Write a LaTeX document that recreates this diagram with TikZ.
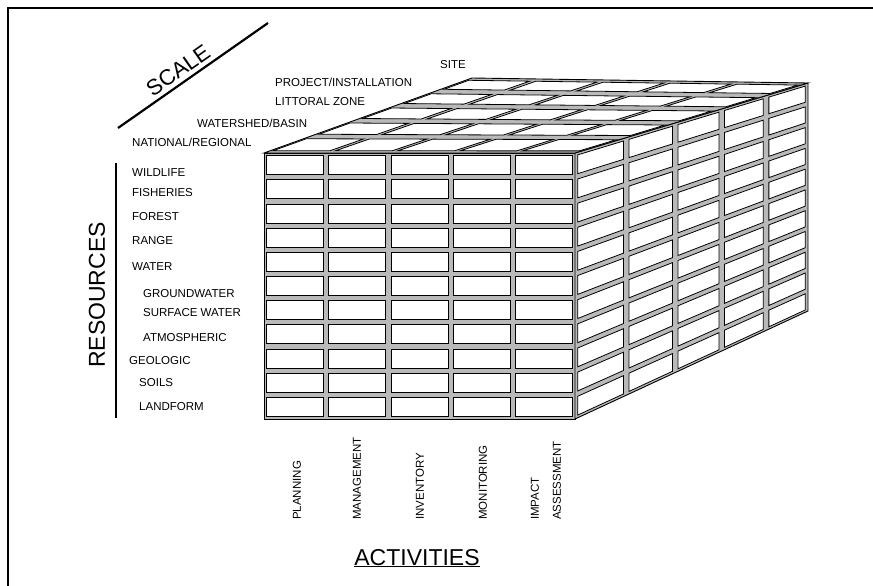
\documentclass[tikz,border=0pt]{standalone}
\usepackage{fontspec}
\setmainfont{Liberation Sans}
\usetikzlibrary{calc}

\begin{document}
\begin{tikzpicture}
	[
	x=1pt, y=-1pt,
	every node/.style={font=\fontsize{11.5}{13}\selectfont, inner sep=0pt},
	bar/.style = {draw, line width=0.9pt, fill=gray!55},
	cell/.style = {draw, line width=0.8pt, fill=white},
	lbl/.style = {anchor=west},
	big/.style = {font=\fontsize{23}{25}\selectfont}
	]
	\useasboundingbox (0,0) rectangle (873,586);
	\draw[line width=2pt] (8,586) -- (8,8) -- (873,8);

	% corners of the block
	\coordinate (f1) at (264,153);
	\coordinate (f2) at (575,153);
	\coordinate (f3) at (575,419);
	\coordinate (f4) at (264,419);
	\coordinate (b1) at (472,78);
	\coordinate (b2) at (808,83);
	\coordinate (b3) at (808,311);

	\draw[bar] (f1) -- (f2) -- (f3) -- (f4) -- cycle;
	\draw[bar] (f2) -- (b2) -- (b3) -- (f3) -- cycle;
	\draw[bar] (f1) -- (b1) -- (b2) -- (f2) -- cycle;

	% front face
	\foreach \c in {0,...,4}
		\foreach \r in {0,...,10}
			\draw[cell] ($(f1)+(\c*62.2+2.6,\r*24.18+2.6)$) rectangle ++(57,19);

	% right face
	\foreach \d/\e in {0/.22,.22/.43,.43/.63,.63/.82,.82/1}
		\foreach \r in {0,...,10} {
			\pgfmathsetmacro\ua{\d+.012} \pgfmathsetmacro\ub{\e-.012}
			\pgfmathsetmacro\va{\r/11+.01} \pgfmathsetmacro\vb{(\r+1)/11-.01}
			\draw[cell] ($($(f2)!\ua!(b2)$)!\va!($(f3)!\ua!(b3)$)$)
				-- ($($(f2)!\ub!(b2)$)!\va!($(f3)!\ub!(b3)$)$)
				-- ($($(f2)!\ub!(b2)$)!\vb!($(f3)!\ub!(b3)$)$)
				-- ($($(f2)!\ua!(b2)$)!\vb!($(f3)!\ua!(b3)$)$) -- cycle;
		}

	% top face
	\foreach \d/\e in {0/.22,.22/.43,.43/.63,.63/.82,.82/1}
		\foreach \c in {0,...,4} {
			\pgfmathsetmacro\ua{\c/5+.009} \pgfmathsetmacro\ub{(\c+1)/5-.009}
			\pgfmathsetmacro\va{\d+.03} \pgfmathsetmacro\vb{\e-.03}
			\draw[cell] ($($(f1)!\ua!(f2)$)!\va!($(b1)!\ua!(b2)$)$)
				-- ($($(f1)!\ub!(f2)$)!\va!($(b1)!\ub!(b2)$)$)
				-- ($($(f1)!\ub!(f2)$)!\vb!($(b1)!\ub!(b2)$)$)
				-- ($($(f1)!\ua!(f2)$)!\vb!($(b1)!\ua!(b2)$)$) -- cycle;
		}

	% scale
	\coordinate (s1) at (118,128);
	\coordinate (s2) at (268,23);
	\draw[line width=2.2pt] (s1) -- node[sloped, above=4pt, pos=.45, font=\fontsize{22}{24}\selectfont] (scale) {SCALE} (s2);
	\node[lbl] (national) at (132,142) {NATIONAL/REGIONAL};
	\node[lbl] (watershed) at (197,123) {WATERSHED/BASIN};
	\node[lbl] (littoral) at (275,102) {LITTORAL ZONE};
	\node[lbl] (project) at (275,82) {PROJECT/INSTALLATION};
	\node[lbl] (site) at (440,65) {SITE};

	% resources
	\draw[line width=2pt] (116,163) -- (116,418);
	\node[big, rotate=90] (resources) at (97,295) {RESOURCES};
	\node[lbl] (wildlife) at (132,173) {WILDLIFE};
	\node[lbl] (fisheries) at (132,193) {FISHERIES};
	\node[lbl] (forest) at (132,217) {FOREST};
	\node[lbl] (range) at (132,241) {RANGE};
	\node[lbl] (water) at (132,267) {WATER};
	\node[lbl] (ground) at (143,294) {GROUNDWATER};
	\node[lbl] (surface) at (143,313) {SURFACE WATER};
	\node[lbl] (atmos) at (143,338) {ATMOSPHERIC};
	\node[lbl] (geologic) at (129,361) {GEOLOGIC};
	\node[lbl] (soils) at (139,383) {SOILS};
	\node[lbl] (landform) at (139,407) {LANDFORM};

	% activities
	\node[lbl, rotate=90] (planning) at (297,520) {PLANNING};
	\node[lbl, rotate=90] (management) at (357,520) {MANAGEMENT};
	\node[lbl, rotate=90] (inventory) at (420,520) {INVENTORY};
	\node[lbl, rotate=90] (monitoring) at (483,520) {MONITORING};
	\node[lbl, rotate=90, align=left, font=\fontsize{11.5}{22}\selectfont] (impact) at (546,520) {IMPACT\\ASSESSMENT};
	\node[big, anchor=base] (activities) at (417,565) {\underline{ACTIVITIES}};
\end{tikzpicture}
\end{document}
